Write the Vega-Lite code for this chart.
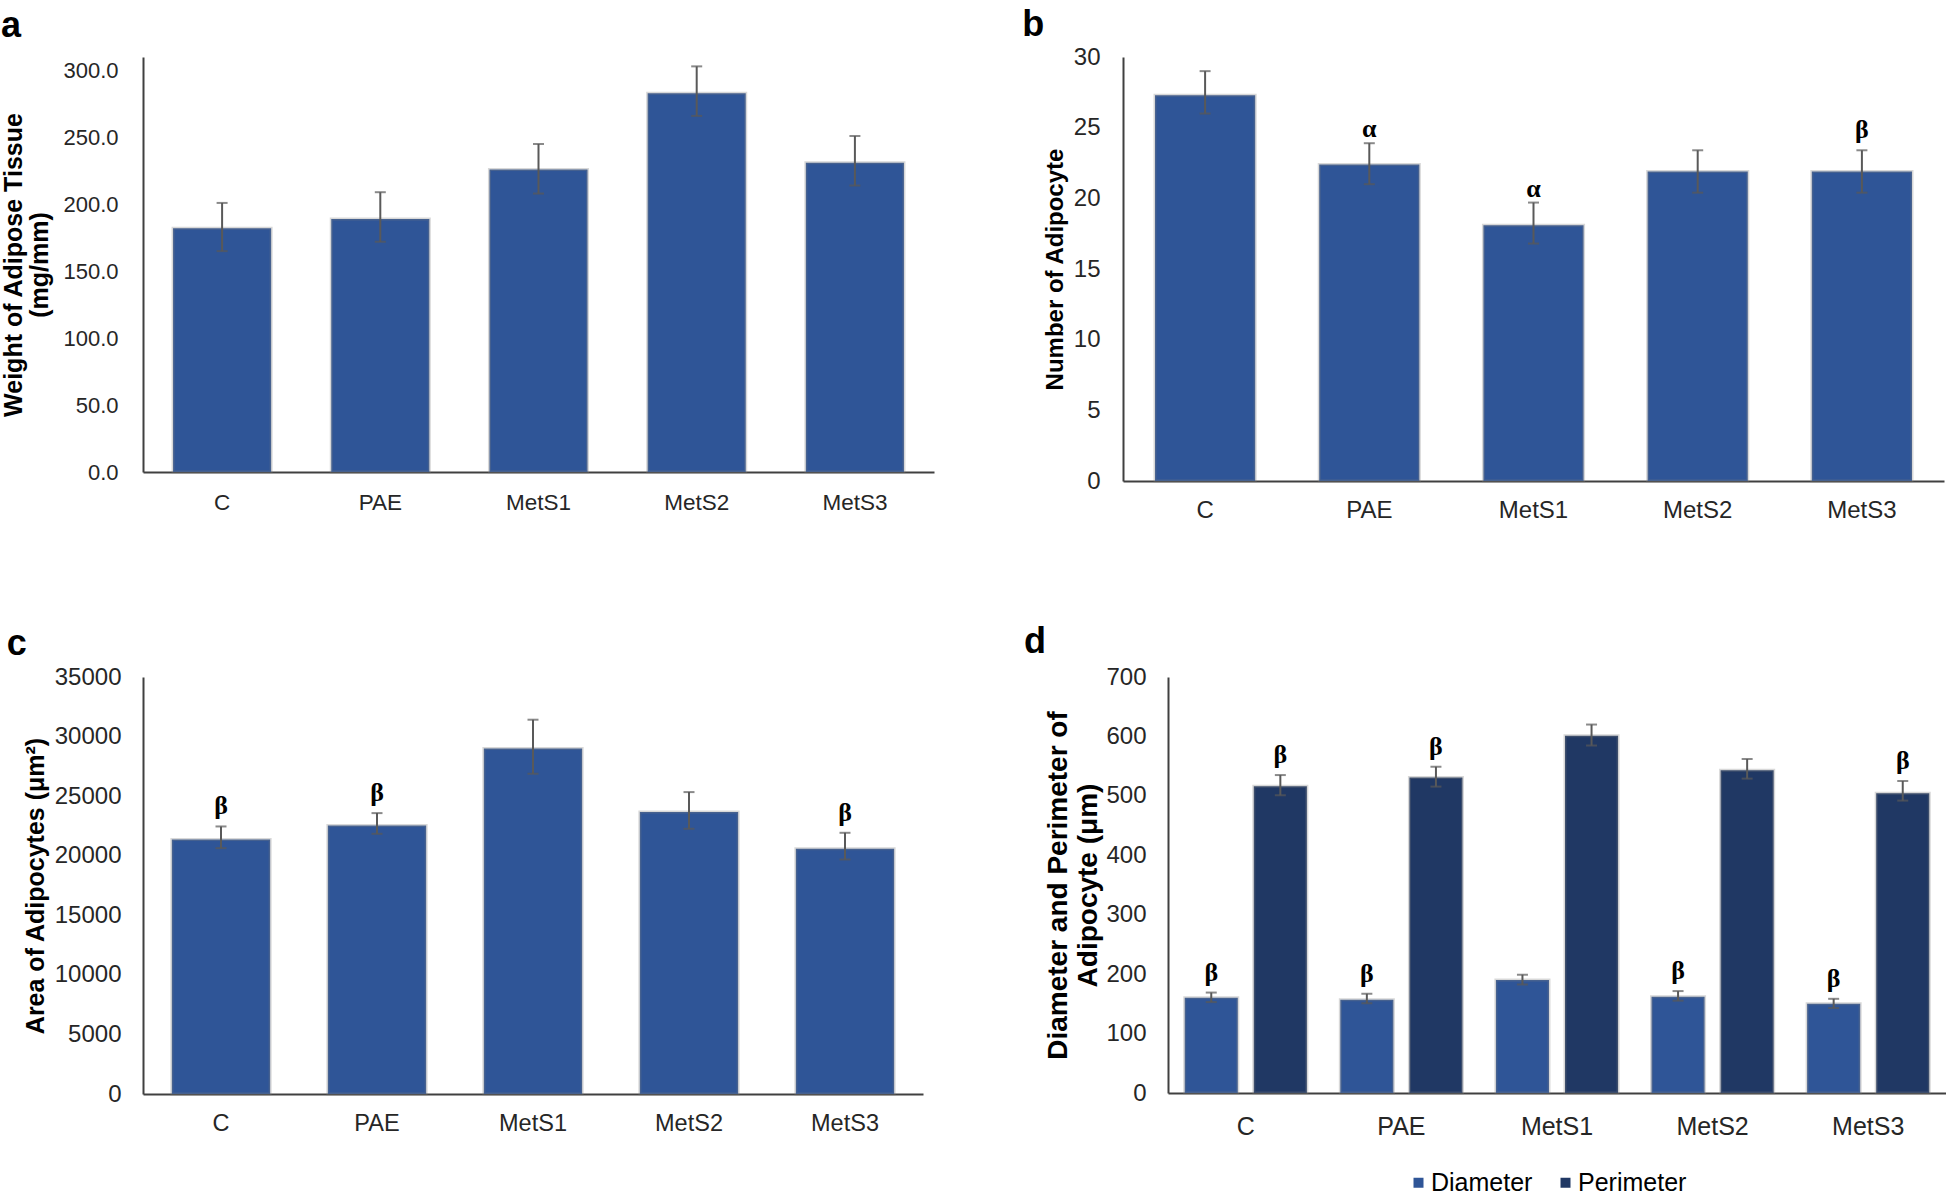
{
  "$schema": "https://vega.github.io/schema/vega-lite/v6.json",
  "background": "white",
  "padding": {"left": 0, "top": 7, "right": 0, "bottom": 0},
  "config": {
    "view": {"stroke": null},
    "font": "Liberation Sans",
    "axis": {"domainColor": "#404040", "domainWidth": 2, "ticks": false, "grid": false, "labelFont": "Liberation Sans", "labelFontSize": 22, "labelColor": "#262626", "titleFont": "Liberation Sans", "titleFontWeight": "bold", "titleColor": "#000000"},
    "title": {"fontSize": 36, "font": "Liberation Sans", "fontWeight": "bold", "anchor": "start", "frame": "bounds", "baseline": "alphabetic", "color": "#000000"},
    "legend": {"labelFont": "Liberation Sans"}
  },
  "resolve": {"legend": {"color": "independent"}},
  "datasets": {
    "a": [
      {"group": "C", "mean": 182, "lo": 165, "hi": 201},
      {"group": "PAE", "mean": 189, "lo": 172, "hi": 209},
      {"group": "MetS1", "mean": 226, "lo": 208, "hi": 245},
      {"group": "MetS2", "mean": 283, "lo": 266, "hi": 303},
      {"group": "MetS3", "mean": 231, "lo": 214, "hi": 251}
    ],
    "b": [
      {"group": "C", "mean": 27.3, "lo": 26.0, "hi": 29.0, "sig": ""},
      {"group": "PAE", "mean": 22.4, "lo": 21.0, "hi": 23.9, "sig": "α"},
      {"group": "MetS1", "mean": 18.1, "lo": 16.8, "hi": 19.7, "sig": "α"},
      {"group": "MetS2", "mean": 21.9, "lo": 20.4, "hi": 23.4, "sig": ""},
      {"group": "MetS3", "mean": 21.9, "lo": 20.4, "hi": 23.4, "sig": "β"}
    ],
    "c": [
      {"group": "C", "mean": 21364, "lo": 20636, "hi": 22456, "sig": "β"},
      {"group": "PAE", "mean": 22540, "lo": 21840, "hi": 23576, "sig": "β"},
      {"group": "MetS1", "mean": 29008, "lo": 26880, "hi": 31416, "sig": ""},
      {"group": "MetS2", "mean": 23660, "lo": 22260, "hi": 25340, "sig": ""},
      {"group": "MetS3", "mean": 20580, "lo": 19684, "hi": 21924, "sig": "β"}
    ],
    "d": [
      {"group": "C", "measure": "Diameter", "mean": 160.4, "lo": 153, "hi": 169, "sig": "β"},
      {"group": "C", "measure": "Perimeter", "mean": 516, "lo": 501, "hi": 535, "sig": "β"},
      {"group": "PAE", "measure": "Diameter", "mean": 157, "lo": 151, "hi": 167, "sig": "β"},
      {"group": "PAE", "measure": "Perimeter", "mean": 531, "lo": 515.6, "hi": 549, "sig": "β"},
      {"group": "MetS1", "measure": "Diameter", "mean": 190, "lo": 182.6, "hi": 199, "sig": ""},
      {"group": "MetS1", "measure": "Perimeter", "mean": 601, "lo": 584.7, "hi": 620, "sig": ""},
      {"group": "MetS2", "measure": "Diameter", "mean": 162, "lo": 155.4, "hi": 171.5, "sig": "β"},
      {"group": "MetS2", "measure": "Perimeter", "mean": 543, "lo": 529, "hi": 562, "sig": ""},
      {"group": "MetS3", "measure": "Diameter", "mean": 150, "lo": 143, "hi": 158.5, "sig": "β"},
      {"group": "MetS3", "measure": "Perimeter", "mean": 504.5, "lo": 492, "hi": 525, "sig": "β"}
    ]
  },
  "spacing": 102,
  "vconcat": [
    {
      "spacing": 88,
      "hconcat": [
        {
          "title": {"text": "a", "dx": -1, "offset": 12},
          "width": 791, "height": 415,
          "data": {"name": "a"},
          "encoding": {
            "x": {"field": "group", "type": "nominal", "sort": null, "scale": {"paddingInner": 0.38, "paddingOuter": 0.19}, "axis": {"title": null, "labelAngle": 0, "labelPadding": 19, "labelFontSize": 22.5}}
          },
          "layer": [
            {"mark": {"type": "bar", "color": "#2F5597", "stroke": "#7f7f7f", "strokeOpacity": 0.3, "strokeWidth": 3},
             "encoding": {"y": {"field": "mean", "type": "quantitative", "scale": {"domain": [0, 310], "nice": false}, "axis": {"title": ["Weight of Adipose Tissue", "(mg/mm)"], "values": [0, 50, 100, 150, 200, 250, 300], "format": ".1f", "labelPadding": 25, "titlePadding": 10, "titleFontSize": 25, "titleLineHeight": 26}}}},
            {"mark": {"type": "rule", "color": "#595959", "strokeWidth": 2},
             "encoding": {"y": {"field": "lo", "type": "quantitative"}, "y2": {"field": "hi"}}},
            {"mark": {"type": "tick", "color": "#595959", "size": 11, "thickness": 2},
             "encoding": {"y": {"field": "lo", "type": "quantitative"}}},
            {"mark": {"type": "tick", "color": "#595959", "size": 11, "thickness": 2},
             "encoding": {"y": {"field": "hi", "type": "quantitative"}}}
          ]
        },
        {
          "title": {"text": "b", "dx": -21, "offset": 1},
          "width": 821, "height": 424,
          "data": {"name": "b"},
          "encoding": {
            "x": {"field": "group", "type": "nominal", "sort": null, "scale": {"paddingInner": 0.39, "paddingOuter": 0.195}, "axis": {"title": null, "labelAngle": 0, "labelPadding": 17, "labelFontSize": 24}}
          },
          "layer": [
            {"mark": {"type": "bar", "color": "#2F5597", "stroke": "#7f7f7f", "strokeOpacity": 0.3, "strokeWidth": 3},
             "encoding": {"y": {"field": "mean", "type": "quantitative", "scale": {"domain": [0, 30], "nice": false}, "axis": {"title": "Number of Adipocyte", "values": [0, 5, 10, 15, 20, 25, 30], "labelPadding": 23, "labelFontSize": 24, "titlePadding": 6, "titleFontSize": 24}}}},
            {"mark": {"type": "rule", "color": "#595959", "strokeWidth": 2},
             "encoding": {"y": {"field": "lo", "type": "quantitative"}, "y2": {"field": "hi"}}},
            {"mark": {"type": "tick", "color": "#595959", "size": 11, "thickness": 2},
             "encoding": {"y": {"field": "lo", "type": "quantitative"}}},
            {"mark": {"type": "tick", "color": "#595959", "size": 11, "thickness": 2},
             "encoding": {"y": {"field": "hi", "type": "quantitative"}}},
            {"transform": [{"filter": "datum.sig === 'α'"}],
             "mark": {"type": "text", "font": "Liberation Serif", "fontWeight": "bold", "fontSize": 26, "baseline": "alphabetic", "dy": -6, "color": "#000000"},
             "encoding": {"y": {"field": "hi", "type": "quantitative"}, "text": {"field": "sig"}}},
            {"transform": [{"filter": "datum.sig === 'β'"}],
             "mark": {"type": "text", "font": "Liberation Serif", "fontWeight": "bold", "fontSize": 26, "baseline": "alphabetic", "dy": -12, "color": "#000000"},
             "encoding": {"y": {"field": "hi", "type": "quantitative"}, "text": {"field": "sig"}}}
          ]
        }
      ]
    },
    {
      "spacing": 100,
      "resolve": {"legend": {"color": "independent"}},
      "hconcat": [
        {
          "title": {"text": "c", "dx": -16.5, "offset": 2},
          "width": 780, "height": 417,
          "data": {"name": "c"},
          "encoding": {
            "x": {"field": "group", "type": "nominal", "sort": null, "scale": {"paddingInner": 0.37, "paddingOuter": 0.185}, "axis": {"title": null, "labelAngle": 0, "labelPadding": 17, "labelFontSize": 23.5}}
          },
          "layer": [
            {"mark": {"type": "bar", "color": "#2F5597", "stroke": "#7f7f7f", "strokeOpacity": 0.3, "strokeWidth": 3},
             "encoding": {"y": {"field": "mean", "type": "quantitative", "scale": {"domain": [0, 35000], "nice": false}, "axis": {"title": "Area of Adipocytes (μm²)", "values": [0, 5000, 10000, 15000, 20000, 25000, 30000, 35000], "format": "d", "labelPadding": 22, "labelFontSize": 24, "titlePadding": 6, "titleFontSize": 25}}}},
            {"mark": {"type": "rule", "color": "#595959", "strokeWidth": 2},
             "encoding": {"y": {"field": "lo", "type": "quantitative"}, "y2": {"field": "hi"}}},
            {"mark": {"type": "tick", "color": "#595959", "size": 11, "thickness": 2},
             "encoding": {"y": {"field": "lo", "type": "quantitative"}}},
            {"mark": {"type": "tick", "color": "#595959", "size": 11, "thickness": 2},
             "encoding": {"y": {"field": "hi", "type": "quantitative"}}},
            {"mark": {"type": "text", "font": "Liberation Serif", "fontWeight": "bold", "fontSize": 26, "baseline": "alphabetic", "dy": -12, "color": "#000000"},
             "encoding": {"y": {"field": "hi", "type": "quantitative"}, "text": {"field": "sig"}}}
          ]
        },
        {
          "title": {"text": "d", "dx": -21, "offset": 4},
          "width": 778, "height": 416,
          "data": {"name": "d"},
          "encoding": {
            "x": {"field": "group", "type": "nominal", "sort": null, "scale": {"paddingInner": 0.215, "paddingOuter": 0.1075}, "axis": {"title": null, "labelAngle": 0, "labelPadding": 21, "labelFontSize": 25}},
            "xOffset": {"field": "measure", "type": "nominal", "scale": {"paddingInner": 0.232, "paddingOuter": 0}}
          },
          "layer": [
            {"mark": {"type": "bar", "stroke": "#7f7f7f", "strokeOpacity": 0.3, "strokeWidth": 3},
             "encoding": {
               "y": {"field": "mean", "type": "quantitative", "scale": {"domain": [0, 700], "nice": false}, "axis": {"title": ["Diameter and Perimeter of", "Adipocyte (μm)"], "values": [0, 100, 200, 300, 400, 500, 600, 700], "labelPadding": 22, "labelFontSize": 24, "titlePadding": 3, "titleFontSize": 28, "titleLineHeight": 30}},
               "color": {"field": "measure", "type": "nominal", "scale": {"domain": ["Diameter", "Perimeter"], "range": ["#2F5597", "#203864"]}, "legend": {"orient": "none", "legendX": 238, "legendY": 493, "direction": "horizontal", "title": null, "symbolType": "square", "symbolSize": 100, "symbolStrokeWidth": 0, "labelFontSize": 25, "labelColor": "#000000", "columnPadding": 20, "labelOffset": 0}}
             }},
            {"mark": {"type": "rule", "color": "#595959", "strokeWidth": 2},
             "encoding": {"y": {"field": "lo", "type": "quantitative"}, "y2": {"field": "hi"}}},
            {"mark": {"type": "tick", "color": "#595959", "size": 11, "thickness": 2},
             "encoding": {"y": {"field": "lo", "type": "quantitative"}}},
            {"mark": {"type": "tick", "color": "#595959", "size": 11, "thickness": 2},
             "encoding": {"y": {"field": "hi", "type": "quantitative"}}},
            {"mark": {"type": "text", "font": "Liberation Serif", "fontWeight": "bold", "fontSize": 26, "baseline": "alphabetic", "dy": -12, "color": "#000000"},
             "encoding": {"y": {"field": "hi", "type": "quantitative"}, "text": {"field": "sig"}}}
          ]
        }
      ]
    }
  ]
}
